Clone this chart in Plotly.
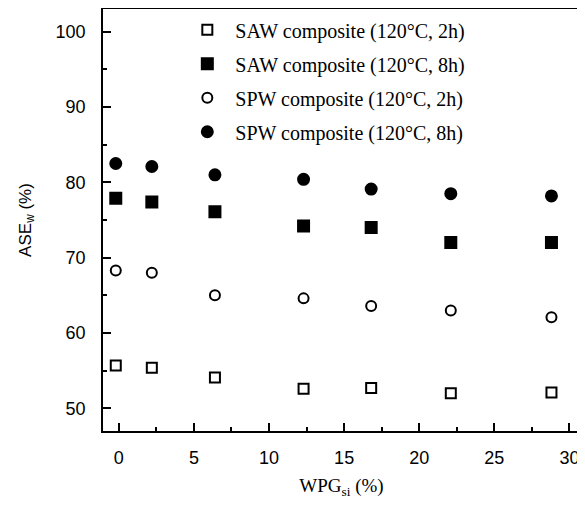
import plotly.graph_objects as go

wpg = [-0.2, 2.2, 6.4, 12.3, 16.8, 22.1, 28.8]
saw_2h = [55.7, 55.4, 54.1, 52.6, 52.7, 52.0, 52.1]
saw_8h = [77.9, 77.4, 76.1, 74.2, 74.0, 72.0, 72.0]
spw_2h = [68.3, 68.0, 65.0, 64.6, 63.6, 63.0, 62.1]
spw_8h = [82.5, 82.1, 81.0, 80.4, 79.1, 78.5, 78.2]

names = [
    "SAW composite (120°C, 2h)",
    "SAW composite (120°C, 8h)",
    "SPW composite (120°C, 2h)",
    "SPW composite (120°C, 8h)",
]
series = [saw_2h, saw_8h, spw_2h, spw_8h]
symbols = ["square-open", "square", "circle-open", "circle"]
sizes = [10, 11, 10, 11]

fig = go.Figure()
for i, (nm, ys, sym, sz) in enumerate(zip(names, series, symbols, sizes)):
    fig.add_trace(go.Scatter(
        x=wpg, y=ys, mode="markers", name=nm, legendgroup=f"g{i}",
        marker=dict(symbol=sym, size=sz, color="black",
                    line=dict(color="black", width=2)),
    ))

fig.update_layout(
    xaxis=dict(
        range=[-1.05, 30.7], dtick=5, tick0=0,
        ticks="inside", ticklen=8, tickwidth=2, tickcolor="#000000",
        minor=dict(ticks="inside", ticklen=4, dtick=2.5, tickwidth=1.5, tickcolor="#000000"),
        showline=True, linecolor="#000000", linewidth=1.5, mirror=True,
        showgrid=False, zeroline=False, automargin=False,
        tickfont=dict(family="Liberation Sans", size=18, color="black"),
        title=dict(text="WPG<sub>si</sub> (%)", font=dict(family="Liberation Serif", size=19, color="black"),
                   standoff=11),
        ticklabelstandoff=10,
    ),
    yaxis=dict(
        range=[47, 103], dtick=10, tick0=50,
        ticks="inside", ticklen=8, tickwidth=2, tickcolor="#000000",
        minor=dict(ticks="inside", ticklen=4, dtick=5, tickwidth=1.5, tickcolor="#000000"),
        showline=True, linecolor="#000000", linewidth=1.5, mirror=True,
        showgrid=False, zeroline=False, automargin=False,
        tickfont=dict(family="Liberation Sans", size=18, color="black"),
        title=dict(text="ASE<sub>w</sub> (%)", font=dict(family="Liberation Sans", size=17, color="black"),
                   standoff=20),
        ticklabelstandoff=12,
    ),
)

# page body has an 8px default margin: figure placed at (8, 8)
fig.update_layout(
    width=577, height=498,
    margin=dict(l=95, r=5, t=1, b=75),
    paper_bgcolor="white", plot_bgcolor="white",
    showlegend=True,
    legend=dict(
        x=0.16, y=0.997, xanchor="left", yanchor="top",
        bgcolor="rgba(0,0,0,0)", borderwidth=0,
        font=dict(family="Liberation Serif", size=20, color="black"),
        tracegroupgap=5, itemwidth=46,
    ),
)

fig.write_html("out.html")
